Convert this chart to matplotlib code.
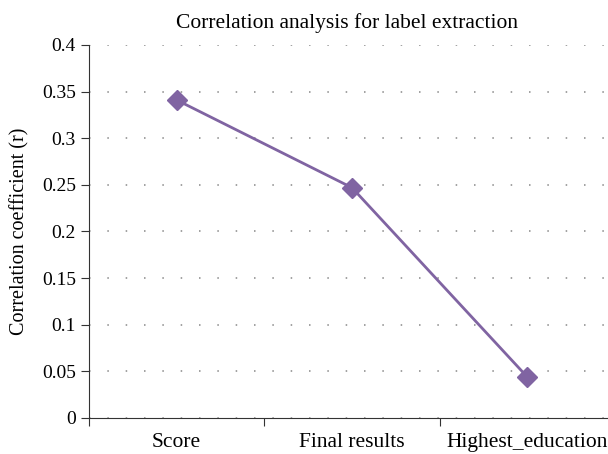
import matplotlib.pyplot as plt
import numpy as np

categories = ["Score", "Final results", "Highest_education"]
corr_values = [0.341, 0.247, 0.044]
y_ticks = [0, 0.05, 0.1, 0.15, 0.2, 0.25, 0.3, 0.35, 0.4]
y_tick_labels = ["0", "0.05", "0.1", "0.15", "0.2", "0.25", "0.3", "0.35", "0.4"]

plt.rcParams['font.family'] = ['Liberation Serif', 'DejaVu Serif']

fig = plt.figure(figsize=(6.08, 4.54), dpi=100)
ax = fig.add_axes([0.1464, 0.0793, 0.865, 0.8216])

x = np.arange(len(categories))
ax.plot(x, corr_values, color='#8064A2', linewidth=2, marker='D', markersize=10,
        markeredgecolor='#8064A2', markerfacecolor='#8064A2')

ax.set_xlim(-0.5, 2.5)
ax.set_ylim(0, 0.4)
ax.set_yticks(y_ticks)
ax.set_yticklabels(y_tick_labels, fontsize=14)

# category boundaries get the tick marks, labels sit in the middle
ax.set_xticks([-0.5, 0.5, 1.5])
ax.set_xticklabels([])
ax.set_xticks(x, minor=True)
ax.set_xticklabels(categories, minor=True, fontsize=15.5)
ax.tick_params(axis='x', which='minor', length=0, pad=11)
ax.tick_params(axis='x', which='major', direction='out', length=6, color='#333333')
ax.tick_params(axis='y', direction='out', length=6, color='#333333')

ax.yaxis.grid(True, linestyle=(0, (1, 11)), color='#888888', linewidth=1.1)
ax.set_axisbelow(True)

for side in ['top', 'right']:
    ax.spines[side].set_visible(False)
ax.spines['left'].set_color('#333333')
ax.spines['bottom'].set_color('#333333')

ax.set_ylabel("Correlation coefficient (r)", fontsize=14.5, labelpad=9)
ax.set_title("Correlation analysis for label extraction", fontsize=15.5, x=0.49, pad=12)

fig.savefig("out.png", dpi=100)
